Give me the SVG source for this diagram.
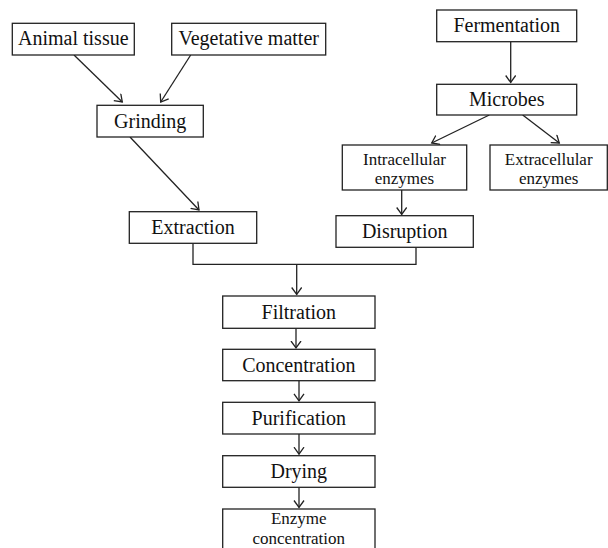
<svg xmlns="http://www.w3.org/2000/svg" width="608" height="548" viewBox="0 0 608 548">
<style>
.box{fill:#fff;stroke:#222;stroke-width:1.3}
.t{font-family:"Liberation Serif","Times New Roman",serif;font-size:20px;fill:#111;text-anchor:middle}
.t2{font-size:17px}
.c{fill:none;stroke:#222;stroke-width:1.3}
</style>
<defs>
<marker id="arr" markerUnits="userSpaceOnUse" markerWidth="10" markerHeight="14" refX="7.5" refY="5.5" orient="auto">
<path d="M0.5,0.5 L7.5,5.5 L0.5,10.5" fill="none" stroke="#222" stroke-width="1.3"/>
</marker>
</defs>
<rect width="608" height="548" fill="#fff"/>
<g id="connectors">
<line class="c" x1="74" y1="55" x2="122.3" y2="102" marker-end="url(#arr)"/>
<line class="c" x1="190.7" y1="55" x2="160.7" y2="102" marker-end="url(#arr)"/>
<line class="c" x1="130" y1="137" x2="199" y2="210" marker-end="url(#arr)"/>
<line class="c" x1="510.7" y1="41.7" x2="510.7" y2="82.5" marker-end="url(#arr)"/>
<line class="c" x1="489.3" y1="115" x2="431.7" y2="143" marker-end="url(#arr)"/>
<line class="c" x1="522.7" y1="115" x2="559.3" y2="143" marker-end="url(#arr)"/>
<line class="c" x1="401.7" y1="190" x2="401.7" y2="214.5" marker-end="url(#arr)"/>
<polyline class="c" points="193,243.3 193,264.3 416,264.3 416,247.3"/>
<line class="c" x1="296.7" y1="264.3" x2="296.7" y2="294.5" marker-end="url(#arr)"/>
<line class="c" x1="296" y1="328.3" x2="296" y2="348" marker-end="url(#arr)"/>
<line class="c" x1="299" y1="380.7" x2="299" y2="400.8" marker-end="url(#arr)"/>
<line class="c" x1="299" y1="434" x2="299" y2="454.2" marker-end="url(#arr)"/>
<line class="c" x1="299" y1="487.3" x2="299" y2="507.5" marker-end="url(#arr)"/>
</g>
<g id="animal"><rect class="box" x="12.3" y="23.3" width="122" height="31.7"/><text class="t" x="73.3" y="45">Animal tissue</text></g>
<g id="vegetative"><rect class="box" x="171.7" y="23.3" width="154" height="31.7"/><text class="t" x="248.7" y="45">Vegetative matter</text></g>
<g id="grinding"><rect class="box" x="97" y="105.3" width="106.3" height="31.7"/><text class="t" x="150.2" y="127.5">Grinding</text></g>
<g id="fermentation"><rect class="box" x="436.7" y="10" width="140" height="31.7"/><text class="t" x="506.7" y="32">Fermentation</text></g>
<g id="microbes"><rect class="box" x="436.7" y="84.3" width="140" height="30.7"/><text class="t" x="506.7" y="106">Microbes</text></g>
<g id="intracellular"><rect class="box" x="342.3" y="145" width="124.4" height="45"/><text class="t t2" x="404.5" y="164.5">Intracellular</text><text class="t t2" x="404.5" y="184">enzymes</text></g>
<g id="extracellular"><rect class="box" x="490" y="145" width="117.3" height="45"/><text class="t t2" x="548.7" y="164.5">Extracellular</text><text class="t t2" x="548.7" y="184">enzymes</text></g>
<g id="extraction"><rect class="box" x="129.3" y="211.7" width="127.4" height="31.6"/><text class="t" x="193" y="234">Extraction</text></g>
<g id="disruption"><rect class="box" x="336" y="215.7" width="137.3" height="31.6"/><text class="t" x="404.7" y="238">Disruption</text></g>
<g id="filtration"><rect class="box" x="222.7" y="296" width="152.3" height="32.3"/><text class="t" x="298.8" y="318.5">Filtration</text></g>
<g id="concentration"><rect class="box" x="222.7" y="349.3" width="152.3" height="31.4"/><text class="t" x="298.8" y="371.5">Concentration</text></g>
<g id="purification"><rect class="box" x="222.7" y="402.3" width="152.3" height="31.7"/><text class="t" x="298.8" y="424.5">Purification</text></g>
<g id="drying"><rect class="box" x="222.7" y="455.7" width="152.3" height="31.6"/><text class="t" x="298.8" y="478">Drying</text></g>
<g id="enzyme"><rect class="box" x="222.7" y="509" width="152.3" height="45"/><text class="t t2" x="298.8" y="524.3">Enzyme</text><text class="t t2" x="298.8" y="543.8">concentration</text></g>
</svg>
